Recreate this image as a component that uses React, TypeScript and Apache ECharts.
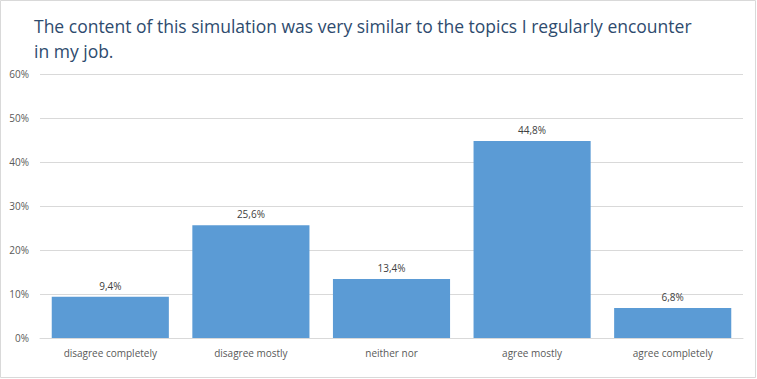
import React, { useEffect, useRef } from "react";
import * as echarts from "echarts";

const titleLines = [
  "The content of this simulation was very similar to the topics I regularly encounter",
  "in my job.",
];
const categories = [
  "disagree completely",
  "disagree mostly",
  "neither nor",
  "agree mostly",
  "agree completely",
];
const values = [9.4, 25.6, 13.4, 44.8, 6.8];
const yTicks = { min: 0, max: 60, interval: 10 };

const FONT = "'Open Sans', 'Noto Sans', sans-serif";

export default function App() {
  const ref = useRef<HTMLDivElement>(null);
  useEffect(() => {
    if (!ref.current) return;
    const chart = echarts.init(ref.current, undefined, { renderer: "svg" });
    chart.setOption({
      animation: false,
      backgroundColor: "#ffffff",
      textStyle: { fontFamily: FONT },
      title: {
        text: titleLines.join("\n"),
        left: 29,
        top: 8,
        textStyle: {
          fontFamily: FONT,
          fontSize: 17.5,
          fontWeight: "normal",
          color: "#2E4B6E",
          lineHeight: 25,
        },
      },
      graphic: [
        {
          type: "rect",
          shape: { x: 0.5, y: 0.5, width: 755, height: 377 },
          style: { fill: "none", stroke: "#D9D9D9", lineWidth: 1 },
          silent: true,
        },
      ],
      grid: { left: 40, right: 14, top: 74, bottom: 41, containLabel: false },
      xAxis: {
        type: "category",
        data: categories,
        axisLine: { lineStyle: { color: "#D9D9D9" } },
        axisTick: { show: false },
        axisLabel: { color: "#595959", fontSize: 10, margin: 10, fontFamily: FONT },
      },
      yAxis: {
        type: "value",
        min: yTicks.min,
        max: yTicks.max,
        interval: yTicks.interval,
        axisLine: { show: false },
        axisTick: { show: false },
        splitLine: { lineStyle: { color: "#D9D9D9" } },
        axisLabel: {
          color: "#595959",
          fontSize: 10,
          margin: 11,
          fontFamily: FONT,
          formatter: (v: number) => v + "%",
        },
      },
      series: [
        {
          type: "bar",
          data: values,
          barCategoryGap: "16.7%",
          itemStyle: { color: "#5B9BD5" },
          label: {
            show: true,
            position: "top",
            distance: 6,
            color: "#404040",
            fontSize: 10,
            fontFamily: FONT,
            formatter: (p: any) => String(p.value.toFixed(1)).replace(".", ",") + "%",
          },
        },
      ],
    });
    return () => chart.dispose();
  }, []);
  return (
    <div
      ref={ref}
      style={{ position: "fixed", left: 0, top: 0, width: 757, height: 379 }}
    />
  );
}
